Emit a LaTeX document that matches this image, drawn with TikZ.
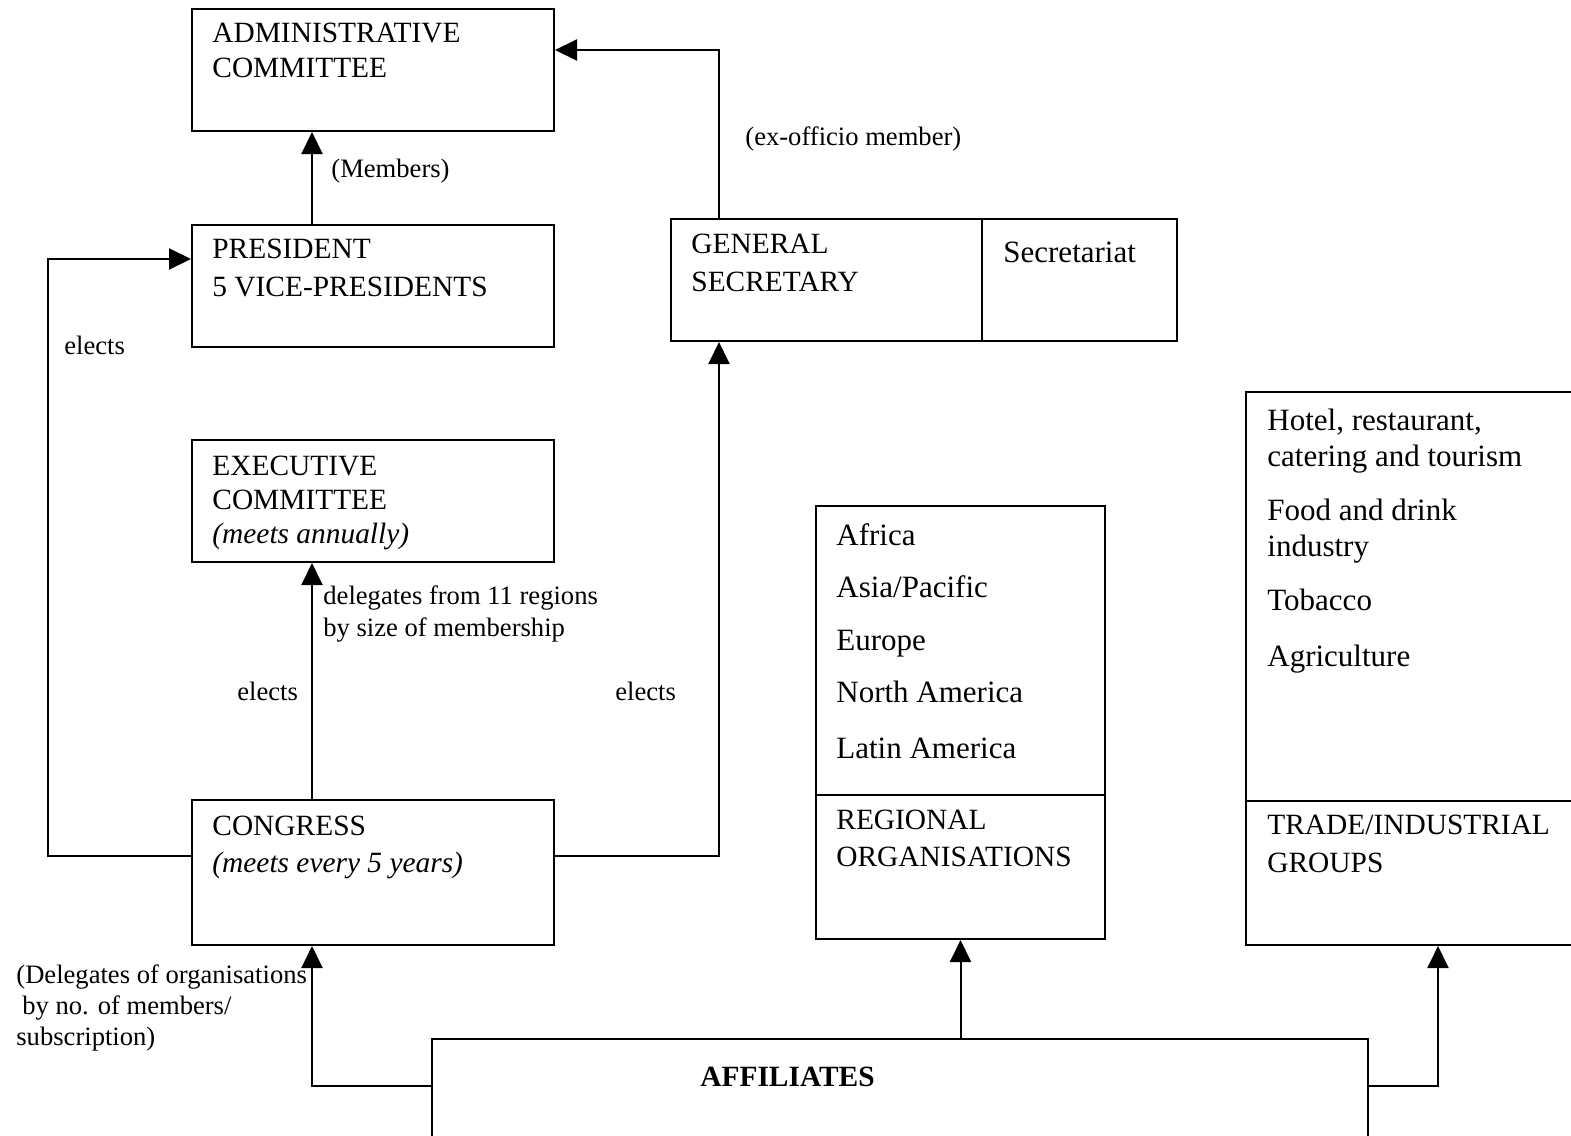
\documentclass[tikz,border=0pt]{standalone}
\usepackage{fontspec}
\setmainfont{Liberation Serif}
\usetikzlibrary{arrows.meta,calc,positioning}

\tikzset{
  box/.style={draw, line width=1pt, anchor=north west, inner sep=0pt},
  txt/.style={anchor=base west, align=left, inner sep=0pt, font=\fontsize{14.7}{18.5}\selectfont},
  big/.style={txt, font=\fontsize{15.5}{18}\selectfont},
  note/.style={txt, font=\fontsize{13.3}{16}\selectfont},
  link/.style={line width=1pt, -{Triangle[length=11pt,width=10.5pt]}},
}

\begin{document}
\begin{tikzpicture}[x=0.5pt,y=-0.5pt]

\useasboundingbox (0,0) rectangle (1571,1136);
\clip (0,0) rectangle (1571,1136);

% boxes
\node[box, minimum width=181pt, minimum height=61pt] (admin) at (191,8) {};
\node[box, minimum width=181pt, minimum height=61pt] (pres) at (191,224) {};
\node[box, minimum width=181pt, minimum height=61pt] (exec) at (191,439) {};
\node[box, minimum width=181pt, minimum height=72.5pt] (cong) at (191,799) {};
\node[box, minimum width=253pt, minimum height=61pt] (gensec) at (670,218) {};
\node[box, minimum width=144.5pt, minimum height=216.5pt] (reg) at (815,505) {};
\node[box, minimum width=200pt, minimum height=276.5pt] (trade) at (1245,391) {};
\node[box, minimum width=468pt, minimum height=60pt] (aff) at (431,1038) {};

% dividers
\draw[line width=1pt] ([xshift=156pt]gensec.north west) -- ([xshift=156pt]gensec.south west);
\draw[line width=1pt] ([yshift=-145pt]reg.north west) -- ([yshift=-145pt]reg.north east);
\draw[line width=1pt] ([yshift=-205pt]trade.north west) -- ([yshift=-205pt]trade.north east);

% box texts (multi-line nodes sit on their last baseline)
\node[txt, font=\fontsize{14.7}{17.5}\selectfont] (admint) at (212,77) {ADMINISTRATIVE\\COMMITTEE};
\node[txt, font=\fontsize{14.7}{19}\selectfont] (prest) at (212,296) {PRESIDENT\\5 VICE-PRESIDENTS};
\node[txt, font=\fontsize{14.7}{17}\selectfont] (exect) at (212,543) {EXECUTIVE\\COMMITTEE\\\textit{(meets annually)}};
\node[txt] (congt) at (212,872) {CONGRESS\\\textit{(meets every 5 years)}};
\node[txt, font=\fontsize{14.7}{19}\selectfont] (gent) at (691,291) {GENERAL\\SECRETARY};
\node[big] (secr) at (1003,262) {Secretariat};
\node[txt] (regt) at (836,866) {REGIONAL\\ORGANISATIONS};
\node[txt, font=\fontsize{14.7}{19}\selectfont] (tradet) at (1267,872) {TRADE/INDUSTRIAL\\GROUPS};
\node[txt, font=\fontsize{14.7}{18}\bfseries] (afft) at (700,1086) {AFFILIATES};

\foreach \i/\y/\name in {1/545/Africa,2/597/{Asia/Pacific},3/650/Europe,4/702/North America,5/758/Latin America}
  \node[big] (r\i) at (836,\y) {\name};

\foreach \i/\y/\name in {1/466/{Hotel, restaurant,\\catering and tourism},2/556/{Food and drink\\industry},3/610/Tobacco,4/666/Agriculture}
  \node[big] (t\i) at (1267,\y) {\name};

% labels
\node[note] (memb) at (331,177) {(Members)};
\node[note] (exoff) at (745,145) {(ex-officio member)};
\node[note] (el1) at (64,354) {elects};
\node[note] (el2) at (237,700) {elects};
\node[note] (el3) at (615,700) {elects};
\node[note] (deleg) at (323,636) {delegates from 11 regions\\by size of membership};
\node[note, font=\fontsize{13.3}{15.5}\selectfont] (orgs) at (16,1045) {(Delegates of organisations\\\hspace{3pt}by no. of members/\\subscription)};

% connectors
\draw[link] ([xshift=60.5pt]pres.north west) -- ([xshift=60.5pt]admin.south west);
\draw[link] ([xshift=24.5pt]gensec.north west) |- ([yshift=-21pt]admin.north east);
\draw[link] ([yshift=-28.5pt]cong.north west) -- ++(-143,0) |- ([yshift=-17.5pt]pres.north west);
\draw[link] ([xshift=60.5pt]cong.north west) -- ([xshift=60.5pt]exec.south west);
\draw[link] ([yshift=-28.5pt]cong.north east) -| ([xshift=24.5pt]gensec.south west);
\draw[link] (aff.north -| reg.south) -- (reg.south);
\draw[link] ([yshift=-24pt]aff.north west) -| ([xshift=60.5pt]cong.south west);
\draw[link] ([yshift=-24pt]aff.north east) -| ([xshift=96.5pt]trade.south west);

\end{tikzpicture}
\end{document}
